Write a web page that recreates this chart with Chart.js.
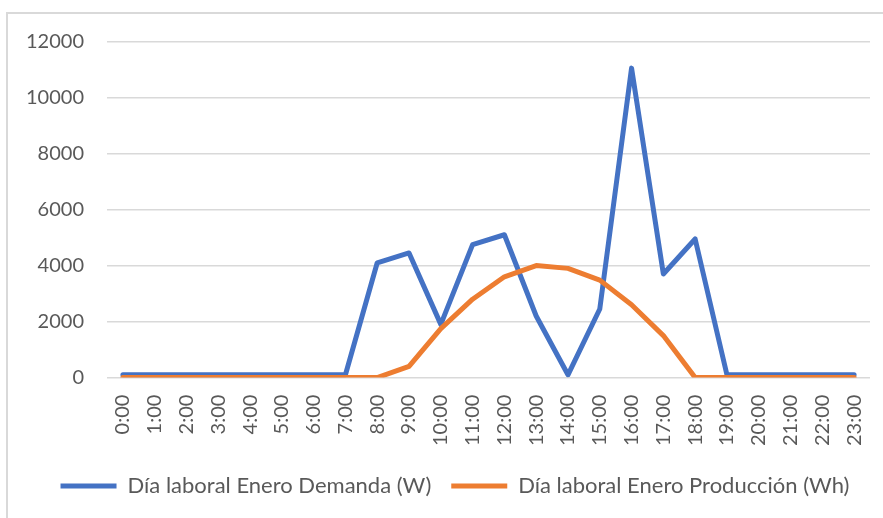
<!DOCTYPE html>
<html>
<head>
<meta charset="utf-8">
<script src="https://cdn.jsdelivr.net/npm/chart.js@4"></script>
<style>
  html, body { margin: 0; padding: 0; background: #fff; }
  #wrap { position: relative; width: 883px; height: 518px; overflow: hidden; }
  #frame { position: absolute; left: 6px; top: 12px; width: 900px; height: 600px;
           border-left: 2px solid #d9d9d9; border-top: 2px solid #d9d9d9; box-sizing: border-box; }
  canvas { position: absolute; left: 0; top: 0; }
</style>
</head>
<body>
<div id="wrap">
  <div id="frame"></div>
  <canvas id="chart" width="883" height="518"></canvas>
</div>
<script>
const horas = ['0:00', '1:00', '2:00', '3:00', '4:00', '5:00', '6:00', '7:00', '8:00', '9:00', '10:00', '11:00',
  '12:00', '13:00', '14:00', '15:00', '16:00', '17:00', '18:00', '19:00', '20:00', '21:00', '22:00', '23:00'];

const demanda = [100, 100, 100, 100, 100, 100, 100, 100, 4100, 4450, 1900, 4750,
  5100, 2200, 100, 2450, 11050, 3700, 4950, 100, 100, 100, 100, 100];

const produccion = [0, 0, 0, 0, 0, 0, 0, 0, 0, 400, 1750, 2800,
  3600, 4000, 3900, 3480, 2600, 1500, 0, 0, 0, 0, 0, 0];

const yTicks = [0, 2000, 4000, 6000, 8000, 10000, 12000];

const textColor = '#595959';
const font = { family: 'Lato', size: 20 };

// nudge the legend a bit to the right, like the Excel original
const legendShift = {
  id: 'legendShift',
  afterLayout(chart) {
    chart.legend.left += 9;
    chart.legend.right += 9;
  }
};

const ctx = document.getElementById('chart').getContext('2d');

new Chart(ctx, {
  type: 'line',
  data: {
    labels: horas,
    datasets: [{
      label: 'Día laboral Enero Demanda (W)',
      data: demanda,
      borderColor: '#4472C4',
      backgroundColor: '#4472C4',
      borderWidth: 5,
      borderJoinStyle: 'round',
      borderCapStyle: 'round',
      pointRadius: 0,
      pointStyle: 'line',
      tension: 0,
      order: 1
    }, {
      label: 'Día laboral Enero Producción (Wh)',
      data: produccion,
      borderColor: '#ED7D31',
      backgroundColor: '#ED7D31',
      borderWidth: 5,
      borderJoinStyle: 'round',
      borderCapStyle: 'round',
      pointRadius: 0,
      pointStyle: 'line',
      tension: 0,
      order: 0
    }]
  },
  options: {
    responsive: false,
    animation: false,
    layout: { padding: { top: 41.5, right: 13, bottom: 11, left: 22 } },
    scales: {
      x: {
        offset: true,
        afterFit: (scale) => {
          scale.paddingLeft = 0;
          scale.paddingRight = 0;
          scale.height -= 8;
        },
        grid: { display: false, drawTicks: false },
        border: { display: false },
        ticks: {
          color: textColor,
          font: font,
          minRotation: 90,
          maxRotation: 90,
          autoSkip: false,
          padding: 17
        }
      },
      y: {
        min: 0,
        max: 12000,
        afterFit: (scale) => { scale.width = 85; },
        afterBuildTicks: (scale) => { scale.ticks = yTicks.map(v => ({ value: v })); },
        grid: { color: '#d9d9d9', lineWidth: 1.5, drawTicks: false },
        border: { display: false },
        ticks: {
          color: textColor,
          font: font,
          padding: 23,
          callback: (value) => String(value)
        }
      }
    },
    plugins: {
      legend: {
        position: 'bottom',
        labels: {
          color: textColor,
          font: { family: 'Lato', size: 22 },
          usePointStyle: true,
          pointStyle: 'line',
          pointStyleWidth: 56,
          padding: 20,
          sort: (a, b) => a.datasetIndex - b.datasetIndex
        }
      },
      tooltip: { enabled: false }
    }
  },
  plugins: [legendShift]
});
</script>
</body>
</html>
